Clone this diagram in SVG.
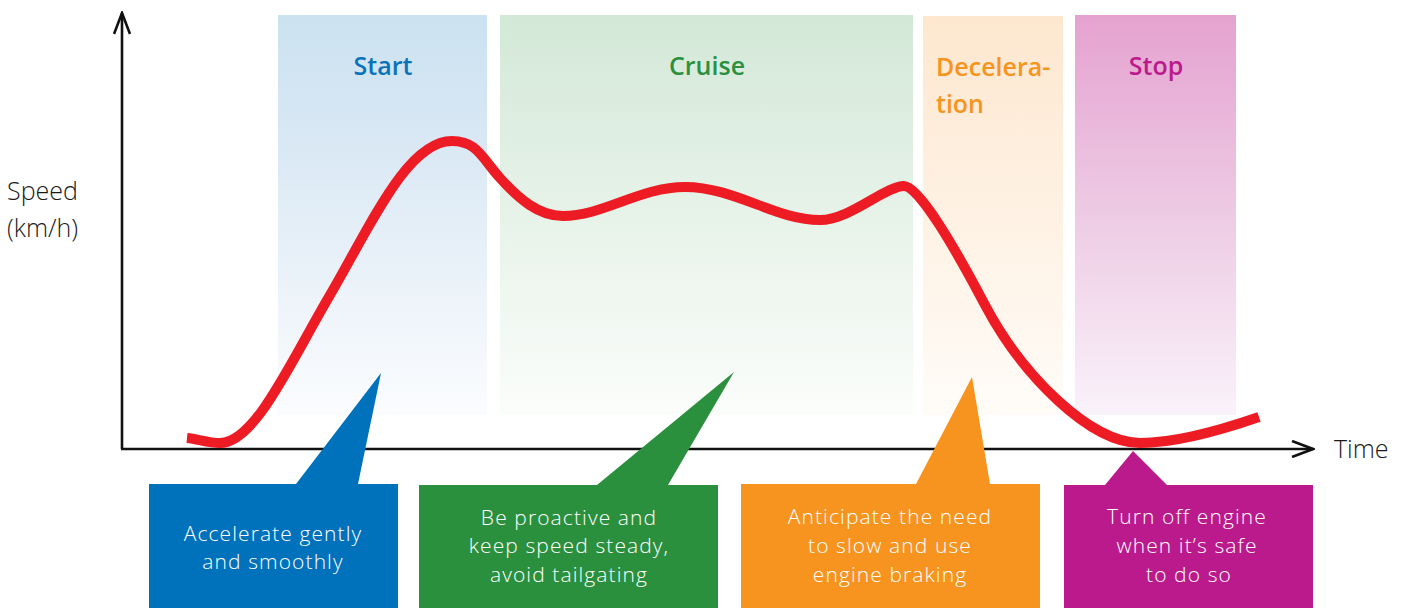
<svg xmlns="http://www.w3.org/2000/svg" width="1407" height="608" viewBox="0 0 1407 608">
<defs>
<linearGradient id="gStart" x1="0" y1="0" x2="0" y2="1"><stop offset="0" stop-color="#cbe2f1"/><stop offset="0.25" stop-color="#d6e6f3"/><stop offset="1" stop-color="#fbfcfe"/></linearGradient>
<linearGradient id="gCruise" x1="0" y1="0" x2="0" y2="1"><stop offset="0" stop-color="#d3e8d7"/><stop offset="1" stop-color="#fbfdfb"/></linearGradient>
<linearGradient id="gDecel" x1="0" y1="0" x2="0" y2="1"><stop offset="0" stop-color="#fde7cf"/><stop offset="1" stop-color="#fffcf8"/></linearGradient>
<linearGradient id="gStop" x1="0" y1="0" x2="0" y2="1"><stop offset="0" stop-color="#e5a2d0"/><stop offset="0.5" stop-color="#edcbe4"/><stop offset="1" stop-color="#faf2fa"/></linearGradient>
<marker id="arr" viewBox="0 0 24 18" markerWidth="24" markerHeight="18" refX="22" refY="9" orient="auto" markerUnits="userSpaceOnUse"><path d="M1,1 L22,9 L1,17" fill="none" stroke="#111" stroke-width="2.6"/></marker>
</defs>
<style>
.lbl{font-family:"Open Sans","Liberation Sans",sans-serif;font-weight:600;font-size:25px;}
.txt{font-family:"Open Sans","Liberation Sans",sans-serif;font-weight:300;font-size:21px;letter-spacing:1.1px;fill:#fff;text-anchor:middle;}
.ax{font-family:"Open Sans","Liberation Sans",sans-serif;font-weight:300;font-size:25px;fill:#1a1a1a;}
.axis{stroke:#111;stroke-width:2.6;fill:none;}
</style>
<g id="band-start"><rect x="278" y="15" width="209" height="400" fill="url(#gStart)"/><text class="lbl" x="383" y="75" text-anchor="middle" fill="#0a72bb">Start</text></g>
<g id="band-cruise"><rect x="500" y="15" width="413" height="400" fill="url(#gCruise)"/><text class="lbl" x="707" y="75" text-anchor="middle" fill="#2b9140">Cruise</text></g>
<g id="band-decel"><rect x="923" y="16" width="140" height="399" fill="url(#gDecel)"/><text class="lbl" x="936" y="76" fill="#f7941d">Decelera-</text><text class="lbl" x="936" y="113" fill="#f7941d">tion</text></g>
<g id="band-stop"><rect x="1075" y="15" width="161" height="400" fill="url(#gStop)"/><text class="lbl" x="1156" y="75" text-anchor="middle" fill="#bb1a8c">Stop</text></g>
<g id="axes">
<line class="axis" x1="122" y1="449" x2="122" y2="13" marker-end="url(#arr)"/>
<line class="axis" x1="121" y1="449" x2="1313" y2="449" marker-end="url(#arr)"/>
<text class="ax" x="7" y="200">Speed</text>
<text class="ax" x="7" y="237">(km/h)</text>
<text class="ax" x="1334" y="458">Time</text>
</g>
<g id="connectors">
<path d="M187,438 C198,439 208,443 220,443 C255,443 290,363 330,295 C370,227 407,141 452,141 C477,141 482,158 500,178 C518,198 538,216 563,216 C603,216 640,187 685,187 C735,187 775,220 820,220 C850,220 885,186 904,186 C919,186 955,248 985,305 C1022,375 1090,443 1140,443 C1180,443 1230,427 1259,417" fill="none" stroke="#ed1c24" stroke-width="10"/>
</g>
<g id="callout-start"><path d="M149,484 H296 L381,373 L358,484 H398 V608 H149 Z" fill="#0071bb"/><text class="txt" x="273" y="541">Accelerate gently</text><text class="txt" x="273" y="569">and smoothly</text></g>
<g id="callout-cruise"><path d="M419,485 H597 L734,372 L668,485 H718 V608 H419 Z" fill="#2b903e"/><text class="txt" x="569" y="525">Be proactive and</text><text class="txt" x="569" y="553">keep speed steady,</text><text class="txt" x="569" y="582">avoid tailgating</text></g>
<g id="callout-decel"><path d="M741,484 H916 L972,377 L990,484 H1040 V608 H741 Z" fill="#f79420"/><text class="txt" x="890" y="524">Anticipate the need</text><text class="txt" x="890" y="553">to slow and use</text><text class="txt" x="890" y="582">engine braking</text></g>
<g id="callout-stop"><path d="M1064,485 H1105 L1133,451 L1167,485 H1313 V608 H1064 Z" fill="#bb1a8c"/><text class="txt" x="1187" y="524">Turn off engine</text><text class="txt" x="1187" y="553">when it’s safe</text><text class="txt" x="1189" y="582">to do so</text></g>
</svg>
